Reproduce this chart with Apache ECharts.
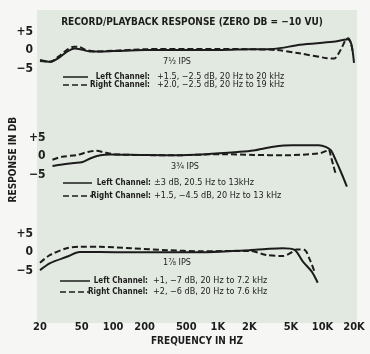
<!DOCTYPE html>
<html>
<head>
<meta charset="utf-8">
<script src="https://cdn.jsdelivr.net/npm/echarts@6/dist/echarts.min.js"></script>
<style>
  html, body { margin: 0; padding: 0; background: #f6f7f5; }
  #chart { width: 370px; height: 354px; }
</style>
</head>
<body>
<div id="chart"></div>
<script>
// tick labels
const freqTicks = [20, 50, 100, 200, 500, 1000, 2000, 5000, 10000, 20000]
const freqLabels = ['20', '50', '100', '200', '500', '1K', '2K', '5K', '10K', '20K']
const dbTicks = [-5, 0, 5]

// 7 1/2 ips
const p1LeftHz = [20, 25, 30, 36, 43, 50, 60, 75, 100, 200, 500, 1000, 2000, 3400, 6100, 12600, 15700, 17500, 18900, 20000]
const p1LeftDb = [-2.7, -3.2, -2.2, -0.5, 0.4, 0.1, -0.4, -0.4, -0.3, 0, 0, 0, 0.2, 0.3, 1.4, 2.2, 2.7, 2.9, 1.5, -3.5]
const p1RightHz = [20, 25, 30, 36, 42, 48, 55, 70, 100, 200, 500, 1000, 2000, 3600, 6000, 11000, 13000, 14000, 15400, 16500, 17600, 19000, 19500]
const p1RightDb = [-3, -3.2, -1.8, 0, 0.9, 0.8, 0, -0.4, -0.2, 0.2, 0.3, 0.3, 0.2, 0, -0.9, -2.2, -2.3, -1.3, 0.8, 2.5, 3.2, 1, -1]

// 3 3/4 ips
const p2LeftHz = [20, 25, 33, 39, 48, 60, 75, 150, 330, 670, 1400, 2000, 3150, 4900, 8900, 10600, 11800, 13100, 15300, 17000]
const p2LeftDb = [-2.7, -2.3, -1.9, -1.7, -0.6, 0.2, 0.4, 0.3, 0.2, 0.5, 1.1, 1.5, 2.5, 2.9, 2.9, 2.4, 1.5, -1, -5.2, -8.3]
const p2RightHz = [20, 25, 35, 45, 55, 68, 90, 330, 1000, 2000, 4000, 8900, 10600, 11200, 11800, 12500, 13300]
const p2RightDb = [-1, -0.2, 0.25, 1.1, 1.4, 0.85, 0.4, 0.2, 0.5, 0.3, 0.2, 0.7, 1.4, 1.8, -0.2, -2.7, -5.3]

// 1 7/8 ips
const p3LeftHz = [20, 25, 36, 48, 75, 150, 670, 2000, 2900, 4150, 5400, 6500, 7900, 9000]
const p3LeftDb = [-4.9, -3, -1.3, 0, 0, -0.1, -0.1, 0.5, 0.8, 1, 0.6, -2.6, -5.3, -8.3]
const p3RightHz = [20, 25, 36, 48, 75, 150, 330, 670, 2000, 2900, 4150, 5000, 5600, 6700, 7600, 8500]
const p3RightDb = [-2.9, -0.8, 1, 1.4, 1.4, 1, 0.5, 0.2, 0.3, -0.8, -1.1, -0.2, 0.7, 0.6, -2.2, -5.8]

const ink = '#1c1c1c'
const font = "'DejaVu Sans Condensed', 'Liberation Sans Narrow', sans-serif"

function pairs(hz, db) {
  return hz.map((f, i) => [f, db[i]])
}

const chart = echarts.init(document.getElementById('chart'), null, { renderer: 'canvas' })

const tops = [20.4, 126.4, 222.4]
const grids = tops.map(t => ({ left: 40, right: 16, top: t, height: 66.6 }))

const xAxes = grids.map((g, i) => ({
  type: 'log',
  gridIndex: i,
  min: 20,
  max: 20000,
  logBase: 10,
  show: i === 2,
  axisLine: { show: false },
  axisTick: { show: false },
  splitLine: { show: false },
  axisLabel: {
    customValues: freqTicks,
    margin: 33,
    color: ink,
    fontFamily: font,
    fontSize: 11,
    fontWeight: 'bold',
    formatter: v => freqLabels[freqTicks.indexOf(Math.round(v))] || ''
  },
  name: i === 2 ? 'FREQUENCY IN HZ' : '',
  nameLocation: 'middle',
  nameGap: 47,
  nameTextStyle: { color: ink, fontFamily: font, fontSize: 10, fontWeight: 'bold' }
}))

const yAxes = grids.map((g, i) => ({
  type: 'value',
  gridIndex: i,
  min: -10,
  max: 8,
  axisLine: { show: false },
  axisTick: { show: false },
  splitLine: { show: false },
  axisLabel: {
    customValues: dbTicks,
    margin: 7,
    color: ink,
    fontFamily: font,
    fontSize: 12,
    fontWeight: 'bold',
    formatter: v => v > 0 ? '+' + v : (v < 0 ? '\u2212' + (-v) : '0')
  },
  name: i === 1 ? 'RESPONSE IN DB' : '',
  nameLocation: 'middle',
  nameRotate: 90,
  nameGap: 30,
  nameTextStyle: { color: ink, fontFamily: font, fontSize: 10, fontWeight: 'bold' }
}))

function line(i, hz, db, dashed) {
  return {
    type: 'line',
    xAxisIndex: i,
    yAxisIndex: i,
    data: pairs(hz, db),
    showSymbol: false,
    smooth: 0.3,
    clip: false,
    lineStyle: { color: ink, width: 2, type: dashed ? [6, 3] : 'solid' },
    silent: true
  }
}

// legend rows per panel: y of the solid row, y of the dashed row, text
const legendRows = [
  { ips: '7\u00bd IPS', ipsX: 177, ipsY: 62, ys: [77, 85], x0: 63, x1: 88, lab: 150, val: 157,
    left: '+1.5, \u22122.5 dB, 20 Hz to 20 kHz', right: '+2.0, \u22122.5 dB, 20 Hz to 19 kHz' },
  { ips: '3\u00be IPS', ipsX: 185, ipsY: 167, ys: [183, 196], x0: 63, x1: 92, lab: 151, val: 154,
    left: '\u00b13 dB, 20.5 Hz to 13kHz', right: '+1.5, \u22124.5 dB, 20 Hz to 13 kHz' },
  { ips: '1\u215e IPS', ipsX: 177, ipsY: 263, ys: [281, 292], x0: 60, x1: 90, lab: 148, val: 153,
    left: '+1, \u22127 dB, 20 Hz to 7.2 kHz', right: '+2, \u22126 dB, 20 Hz to 7.6 kHz' }
]

const graphics = [
  { type: 'rect', z: -10, shape: { x: 37, y: 10, width: 320, height: 313 }, style: { fill: '#e2e9e0' } },
  { type: 'text', x: 192, y: 22, style: { text: 'RECORD/PLAYBACK RESPONSE (ZERO DB = \u221210 VU)', fill: ink,
    font: "bold 10px " + font, align: 'center', verticalAlign: 'middle' } }
]
legendRows.forEach(r => {
  graphics.push({ type: 'text', x: r.ipsX, y: r.ipsY, style: { text: r.ips, fill: ink, font: '9px ' + font, align: 'center', verticalAlign: 'middle' } })
  ;['Left Channel:', 'Right Channel:'].forEach((name, k) => {
    graphics.push({ type: 'line', shape: { x1: r.x0, y1: r.ys[k], x2: r.x1, y2: r.ys[k] },
      style: { stroke: ink, lineWidth: 1.5, lineDash: k === 1 ? [6, 3] : null } })
    graphics.push({ type: 'text', x: r.lab, y: r.ys[k], style: { text: name, fill: ink, font: 'bold 8px ' + font, align: 'right', verticalAlign: 'middle' } })
    graphics.push({ type: 'text', x: r.val, y: r.ys[k], style: { text: k === 0 ? r.left : r.right, fill: ink, font: '9px ' + font, align: 'left', verticalAlign: 'middle' } })
  })
})

chart.setOption({
  backgroundColor: '#f6f7f5',
  animation: false,
  grid: grids,
  xAxis: xAxes,
  yAxis: yAxes,
  graphic: graphics,
  series: [
    line(0, p1LeftHz, p1LeftDb, false),
    line(0, p1RightHz, p1RightDb, true),
    line(1, p2LeftHz, p2LeftDb, false),
    line(1, p2RightHz, p2RightDb, true),
    line(2, p3LeftHz, p3LeftDb, false),
    line(2, p3RightHz, p3RightDb, true)
  ]
})
</script>
</body>
</html>
